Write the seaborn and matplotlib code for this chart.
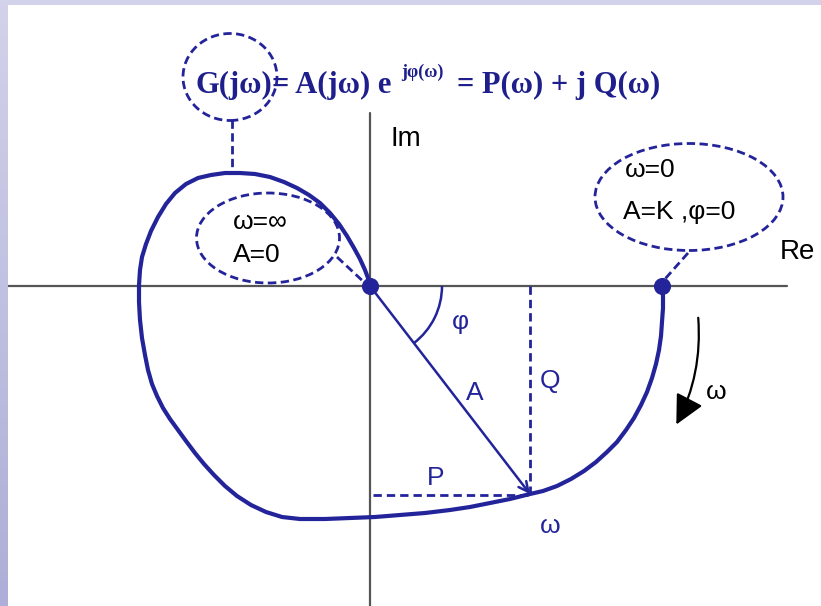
import numpy as np
import pandas as pd
import seaborn as sns
import matplotlib.pyplot as plt
from matplotlib.patches import Ellipse, Arc, FancyArrowPatch
from matplotlib.colors import LinearSegmentedColormap

# Nyquist curve G(jw), from w=0 (on the Re axis) to w=inf (origin), in pixel-like units
re_vals = [292, 293, 293, 292, 291, 289, 286, 282, 277, 271, 264, 256, 247, 237, 226, 214,
           201, 187, 173, 160, 140, 120, 100, 80, 55, 30, 5, -20, -45, -70, -88, -104,
           -119, -133, -145, -156, -166, -175, -184, -192, -200, -207, -213, -218, -222,
           -225, -228, -230, -231, -231, -230, -228, -224, -219, -212, -204, -195, -184,
           -172, -159, -145, -130, -115, -100, -86, -73, -61, -50, -40, -31, -23, -16,
           -10, -5, -2, 0]
im_vals = [0, -10, -22, -36, -50, -64, -78, -92, -106, -119, -132, -144, -156, -166, -176,
           -185, -193, -200, -205, -208, -213, -217, -221, -224, -227, -229, -231, -232,
           -233, -233, -231, -226, -219, -210, -200, -189, -178, -167, -155, -144, -133,
           -122, -110, -98, -84, -69, -52, -34, -16, 1, 16, 29, 42, 55, 69, 82, 93, 102,
           108, 111, 113, 113, 112, 109, 104, 98, 91, 83, 73, 62, 50, 38, 27, 16, 8, 0]

# the point at some frequency w: P(w) and Q(w)
P_w = 160
Q_w = -208

# marked points: w=0 (A=K) and w=inf (A=0)
dot_re = [292, 0]
dot_im = [0, 0]

blue = "#24249a"
navy = "#1e1e8c"

sns.set_style("white")
plt.rcParams["font.family"] = ["Liberation Sans", "DejaVu Sans"]

fig = plt.figure(figsize=(8.21, 6.06), dpi=100)

# lavender slide background
bg = fig.add_axes([0, 0, 1, 1])
cmap = LinearSegmentedColormap.from_list("lav", ["#aeaed8", "#d2d2ea"])
bg.imshow(np.linspace(0, 1, 100).reshape(-1, 1), aspect="auto", cmap=cmap,
          extent=[0, 1, 0, 1], origin="lower")
bg.axis("off")

ax = fig.add_axes([8 / 821, 0, 813 / 821, 601 / 606])
ax.set_facecolor("white")
for sp in ax.spines.values():
    sp.set_visible(False)

# axes of the complex plane
ax.plot([-362, 417], [0, 0], color="#555555", lw=1.6, zorder=1)
ax.plot([0, 0], [-320, 173], color="#555555", lw=1.6, zorder=1)
ax.text(20, 147, "Im", fontsize=20, ha="left", va="center", color="black")
ax.text(410, 34, "Re", fontsize=20, ha="left", va="center", color="black")

# the curve
curve = pd.DataFrame({"Re": re_vals, "Im": im_vals})
sns.lineplot(data=curve, x="Re", y="Im", sort=False, estimator=None,
             color=blue, lw=3, ax=ax, zorder=3, solid_joinstyle="round")
sns.scatterplot(x=dot_re, y=dot_im, color=blue, s=130, edgecolor=blue,
                ax=ax, zorder=4, legend=False)

# vector A, components P and Q
ax.annotate("", xy=(P_w, Q_w), xytext=(0, 0),
            arrowprops=dict(arrowstyle="->,head_length=0.7,head_width=0.35",
                            color=blue, lw=1.8, shrinkA=0, shrinkB=0), zorder=3)
ax.plot([P_w, P_w], [0, Q_w], color=blue, lw=2, ls=(0, (3, 1.8)), zorder=2)
ax.plot([3, P_w], [Q_w - 1, Q_w - 1], color=blue, lw=2, ls=(0, (3, 1.8)), zorder=2)
phi = np.degrees(np.arctan2(Q_w, P_w))
ax.add_patch(Arc((0, 0), 144, 144, theta1=phi, theta2=0, color=blue, lw=1.8))

ax.text(90, -36, "φ", fontsize=19, color=blue, ha="center", va="center")
ax.text(105, -107, "A", fontsize=19, color=blue, ha="center", va="center")
ax.text(180, -95, "Q", fontsize=19, color=blue, ha="center", va="center")
ax.text(66, -192, "P", fontsize=19, color=blue, ha="center", va="center")
ax.text(180, -240, "ω", fontsize=19, color=blue, ha="center", va="center")

# direction of increasing w
ax.add_patch(FancyArrowPatch((328, -29), (305, -141), connectionstyle="arc3,rad=-0.15",
                             arrowstyle="-|>,head_length=0.9,head_width=0.45",
                             mutation_scale=20, color="black", lw=1.6))
ax.text(346, -106, "ω", fontsize=19, color="black", ha="center", va="center")

# dashed callouts
dash = (0, (3, 1.6))
ax.add_patch(Ellipse((-140, 209), 94, 87, fill=False, ec=blue, lw=2, ls=dash))
ax.plot([-138, -138], [166, 113], color=blue, lw=2, ls=dash)
ax.add_patch(Ellipse((-102, 48), 143, 90, fill=False, ec=blue, lw=2, ls=dash))
ax.plot([-33, -4], [29, 2], color=blue, lw=2, ls=dash)
ax.add_patch(Ellipse((319, 89), 188, 107, fill=False, ec=blue, lw=2, ls=dash))
ax.plot([318, 295], [33, 7], color=blue, lw=2, ls=dash)

ax.text(-137, 64, "ω=∞", fontsize=19, ha="left", va="center", color="black")
ax.text(-137, 31, "A=0", fontsize=19, ha="left", va="center", color="black")
ax.text(255, 116, "ω=0", fontsize=19, ha="left", va="center", color="black")
ax.text(253, 74, "A=K ,φ=0", fontsize=19, ha="left", va="center", color="black")

# formula
serif = ["Liberation Serif", "DejaVu Serif"]
ax.text(-175, 193, "G(jω)", fontsize=22, fontweight="bold", family=serif,
        color=navy, ha="left", va="baseline")
ax.text(-98, 193, "= A(jω) e", fontsize=22, fontweight="bold", family=serif,
        color=navy, ha="left", va="baseline")
ax.text(31, 209, "jφ(ω)", fontsize=13, fontweight="bold", family=serif,
        color=navy, ha="left", va="baseline")
ax.text(87, 193, "= P(ω) + j Q(ω)", fontsize=22, fontweight="bold", family=serif,
        color=navy, ha="left", va="baseline")

ax.set_xlim(-362, 451)
ax.set_ylim(-320, 281)
ax.set_aspect("equal")
ax.set_xticks([])
ax.set_yticks([])
ax.set_xlabel("")
ax.set_ylabel("")

fig.savefig("out.png", dpi=100)
